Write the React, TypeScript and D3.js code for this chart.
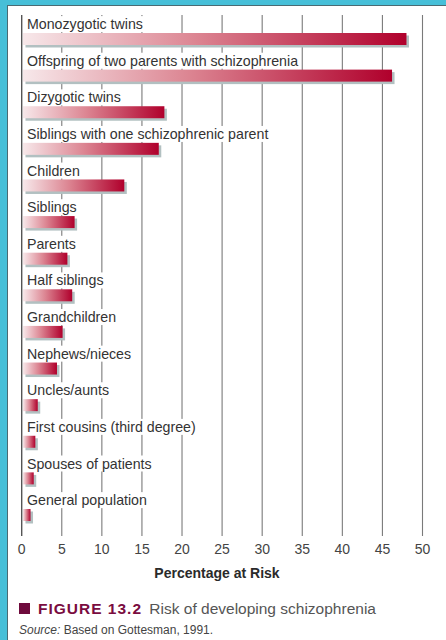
import React, { useEffect, useRef } from "react";
import * as d3 from "d3";

const categories = [
  "Monozygotic twins",
  "Offspring of two parents with schizophrenia",
  "Dizygotic twins",
  "Siblings with one schizophrenic parent",
  "Children",
  "Siblings",
  "Parents",
  "Half siblings",
  "Grandchildren",
  "Nephews/nieces",
  "Uncles/aunts",
  "First cousins (third degree)",
  "Spouses of patients",
  "General population",
];
const riskValues = [48, 46.2, 17.8, 17.1, 12.8, 6.6, 5.7, 6.3, 5.1, 4.4, 2.0, 1.7, 1.5, 1.1];
const tickValues = [0, 5, 10, 15, 20, 25, 30, 35, 40, 45, 50];
const axisTitle = "Percentage at Risk";
const figureLabel = "FIGURE 13.2";
const figureTitle = "Risk of developing schizophrenia";
const sourceLabel = "Source:";
const sourceText = " Based on Gottesman, 1991.";

const W = 446;
const H = 640;
const FONT = "'Liberation Sans', Arial, Helvetica, sans-serif";

export default function App() {
  const ref = useRef<SVGSVGElement | null>(null);

  useEffect(() => {
    const svg = d3.select(ref.current);
    svg.selectAll("*").remove();

    const x = d3.scaleLinear().domain([0, 50]).range([21.7, 422.5]);
    const rowY = d3
      .scalePoint<string>()
      .domain(categories)
      .range([24, 500]);

    const defs = svg.append("defs");
    const grad = defs
      .append("linearGradient")
      .attr("id", "barGrad")
      .attr("x1", "0%")
      .attr("x2", "100%")
      .attr("y1", "0%")
      .attr("y2", "0%");
    grad.append("stop").attr("offset", "0%").attr("stop-color", "#f7e8ea");
    grad.append("stop").attr("offset", "45%").attr("stop-color", "#dc8592");
    grad.append("stop").attr("offset", "100%").attr("stop-color", "#b0002c");

    // background frame
    svg.append("rect").attr("x", 0).attr("y", 0).attr("width", W).attr("height", H).attr("fill", "#46bfd8");
    svg.append("rect").attr("x", 7).attr("y", 5).attr("width", W - 7).attr("height", H - 5).attr("fill", "#ffffff");
    svg.append("line").attr("x1", 7.5).attr("x2", 7.5).attr("y1", 5).attr("y2", H).attr("stroke", "#4a6a72").attr("stroke-width", 1);
    svg.append("line").attr("x1", 7).attr("x2", W).attr("y1", 5.5).attr("y2", 5.5).attr("stroke", "#4a6a72").attr("stroke-width", 1);

    // gridlines
    const grid = svg.append("g");
    grid
      .selectAll("line")
      .data(tickValues)
      .enter()
      .append("line")
      .attr("x1", (d) => x(d))
      .attr("x2", (d) => x(d))
      .attr("y1", 15)
      .attr("y2", 536)
      .attr("stroke", (d) => (d === 0 ? "#555" : "#7a7a7a"))
      .attr("stroke-width", (d) => (d === 0 ? 1.4 : 1.1));

    // rows
    const rows = svg
      .append("g")
      .selectAll("g")
      .data(categories)
      .enter()
      .append("g")
      .attr("transform", (d) => `translate(0,${rowY(d)})`);

    const labelBg = rows.append("rect").attr("fill", "#ffffff");
    const labels = rows
      .append("text")
      .attr("x", 27)
      .attr("y", 0)
      .attr("dy", "0.36em")
      .attr("font-family", FONT)
      .attr("font-size", 14.2)
      .attr("fill", "#333")
      .text((d) => d);

    labels.each(function (_d, i) {
      const bb = (this as SVGTextElement).getBBox();
      d3.select(labelBg.nodes()[i])
        .attr("x", bb.x - 1)
        .attr("y", bb.y)
        .attr("width", bb.width + 2)
        .attr("height", bb.height);
    });

    // shadows
    rows
      .append("rect")
      .attr("x", 25.5)
      .attr("y", 11.5)
      .attr("width", (_d, i) => x(riskValues[i]) - 23)
      .attr("height", 12)
      .attr("fill", "#b2c0c1");
    // bars
    rows
      .append("rect")
      .attr("x", 23)
      .attr("y", 9)
      .attr("width", (_d, i) => x(riskValues[i]) - 23)
      .attr("height", 12)
      .attr("fill", "url(#barGrad)");

    // tick labels
    svg
      .append("g")
      .selectAll("text")
      .data(tickValues)
      .enter()
      .append("text")
      .attr("x", (d) => x(d))
      .attr("y", 554)
      .attr("text-anchor", "middle")
      .attr("font-family", FONT)
      .attr("font-size", 14)
      .attr("fill", "#444")
      .text((d) => String(d));

    svg
      .append("text")
      .attr("x", 217)
      .attr("y", 578)
      .attr("text-anchor", "middle")
      .attr("font-family", FONT)
      .attr("font-size", 14)
      .attr("font-weight", "bold")
      .attr("fill", "#2a2a2a")
      .text(axisTitle);

    // caption
    svg.append("rect").attr("x", 19).attr("y", 603).attr("width", 11).attr("height", 11).attr("fill", "#6e0a3c");
    const cap = svg
      .append("text")
      .attr("x", 38)
      .attr("y", 614)
      .attr("font-family", FONT)
      .attr("font-size", 15.5);
    cap
      .append("tspan")
      .attr("font-weight", "bold")
      .attr("letter-spacing", 1)
      .attr("fill", "#7a0c40")
      .text(figureLabel);
    cap.append("tspan").attr("fill", "#555").attr("dx", 3).text(" " + figureTitle);

    const src = svg
      .append("text")
      .attr("x", 19)
      .attr("y", 634)
      .attr("font-family", FONT)
      .attr("font-size", 12)
      .attr("fill", "#444");
    src.append("tspan").attr("font-style", "italic").text(sourceLabel);
    src.append("tspan").text(sourceText);
  }, []);

  return (
    <svg
      ref={ref}
      width={W}
      height={H}
      style={{ position: "absolute", left: 0, top: 0, display: "block" }}
    />
  );
}
